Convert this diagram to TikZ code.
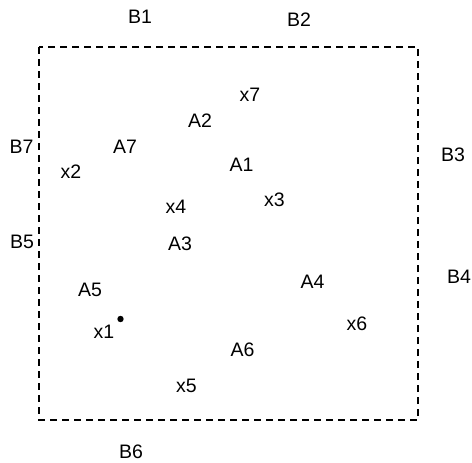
\documentclass[tikz,border=0pt]{standalone}
\usepackage{fontspec}
\setmainfont{Liberation Sans}
\begin{document}
\begin{tikzpicture}[x=1pt,y=-1pt,
  lbl/.style={inner sep=0pt,font=\fontsize{19.5}{23}\selectfont},
  frame/.style={draw,line width=1.6pt,dash pattern=on 7pt off 5pt}]
\useasboundingbox (0,0) rectangle (472,463);
\coordinate (tl) at (39,47);
\coordinate (br) at (418,420);
\draw[frame] (tl) rectangle (br);
\node[lbl] (B1) at (140,17) {B1};
\node[lbl] (B2) at (299,19.5) {B2};
\node[lbl] (B3) at (453,155) {B3};
\node[lbl] (B4) at (459,277) {B4};
\node[lbl] (B5) at (22,242) {B5};
\node[lbl] (B6) at (131,452) {B6};
\node[lbl] (B7) at (21.5,147) {B7};
\node[lbl] (A1) at (241.5,164.5) {A1};
\node[lbl] (A2) at (200,121) {A2};
\node[lbl] (A3) at (180,243.5) {A3};
\node[lbl] (A4) at (312.5,281.5) {A4};
\node[lbl] (A5) at (90,289.5) {A5};
\node[lbl] (A6) at (242.5,349.5) {A6};
\node[lbl] (A7) at (125,147) {A7};
\node[lbl] (x1) at (104,332) {x1};
\node[lbl] (x2) at (71,172) {x2};
\node[lbl] (x3) at (274.5,200) {x3};
\node[lbl] (x4) at (176,207) {x4};
\node[lbl] (x5) at (186.5,386) {x5};
\node[lbl] (x6) at (357,323.5) {x6};
\node[lbl] (x7) at (250,95) {x7};
\coordinate (p1) at (120.5,319);
\fill (p1) circle (3.2pt);
\end{tikzpicture}
\end{document}
